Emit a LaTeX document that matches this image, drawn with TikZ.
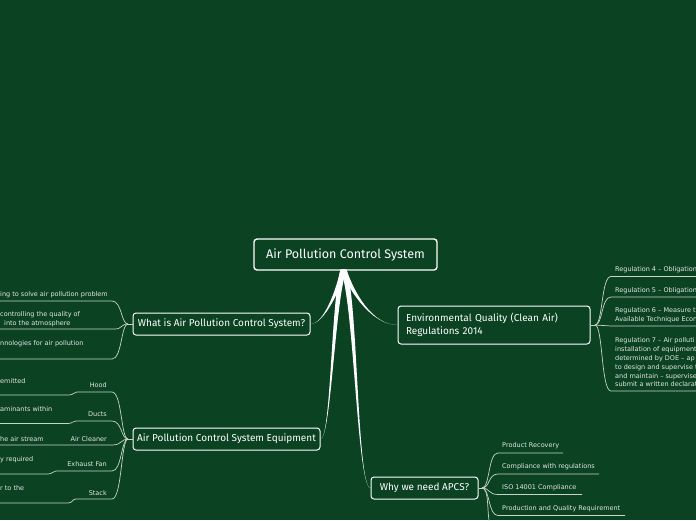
\documentclass[tikz,border=0pt]{standalone}
\usepackage{fontspec}
\setmainfont{DejaVu Sans}
\newfontfamily\hand{Fira Sans}
\usetikzlibrary{calc}
\definecolor{bg}{RGB}{10,66,34}
\definecolor{ln}{RGB}{200,212,200}
\definecolor{tx}{RGB}{228,232,228}
\newcommand\taper[4]{%
  \fill[white] ($#1+(-3,0)$) .. controls ($#2+(-2,0)$) and #3 .. #4
     .. controls #3 and ($#2+(2,0)$) .. ($#1+(3,0)$) -- cycle;}
\begin{document}
\begin{tikzpicture}[x=1pt,y=-1pt,
  main/.style={draw=white,line width=1pt,rounded corners=3pt,text=white,
    font=\hand\fontsize{10}{13}\selectfont,inner sep=0pt},
  sub/.style={text=tx,font=\fontsize{6.5}{8.8}\selectfont,inner sep=0pt,align=left},
  conn/.style={draw=ln,line width=0.7pt}]
\fill[bg] (0,0) rectangle (696,520);
\useasboundingbox (0,0) rectangle (696,520);

% main nodes
\node[main,line width=1.4pt,font=\hand\fontsize{12.5}{14}\selectfont,
  minimum width=183pt,minimum height=31pt] (c) at (345.5,254.5) {Air Pollution Control System};
\node[main,minimum width=177pt,minimum height=22pt] (w) at (221.5,324) {What is Air Pollution Control System?};
\node[main,minimum width=187pt,minimum height=22pt] (q) at (226.5,439) {Air Pollution Control System Equipment};
\node[main,minimum width=192pt,minimum height=38pt,text width=176pt,align=left] (e) at (494,325)
  {Environmental Quality (Clean Air)\\Regulations 2014};
\node[main,minimum width=107pt,minimum height=22pt] (y) at (424.5,488) {Why we need APCS?};

% tapered central connectors
\coordinate (r) at ([xshift=-2pt,yshift=1pt]c.south);
\taper{(r)}{(338,290)}{(324,324)}{(w.east)}
\taper{(r)}{(333,300)}{(331,439)}{(q.east)}
\taper{(r)}{(352,292)}{(372,325)}{(e.west)}
\taper{(r)}{(356,300)}{(357,488)}{(y.west)}

% What is ... subtopics
\coordinate (wh) at (128,324);
\coordinate (w1) at (0,301);
\coordinate (w2) at (0,329);
\coordinate (w3) at (0,359);
\draw[conn] (w.west) -- (wh);
\draw[conn] (wh) .. controls (121,324) and (122,301) .. (112,301) -- (w1);
\draw[conn] (wh) .. controls (121,324) and (122,329) .. (115,329) -- (w2);
\draw[conn] (wh) .. controls (121,324) and (122,359) .. (112,359) -- (w3);
\node[sub,anchor=west] (wt1) at (0,294.5) {ing to solve air pollution problem};
\node[sub,anchor=west] (wt2) at (0,314.5) {controlling the quality of};
\node[sub,anchor=west] (wt3) at (4,323.3) {into the atmosphere};
\node[sub,anchor=west] (wt4) at (0,344) {nnologies for air pollution};

% Equipment subtopics
\coordinate (qh) at (128,439);
\draw[conn] (q.west) -- (qh);
\coordinate (d1) at (0,395);
\coordinate (d2) at (0,423.5);
\coordinate (d3) at (0,445);
\coordinate (d4) at (0,474);
\coordinate (d5) at (0,503);
\draw[conn] (qh) .. controls (121,439) and (122,392) .. (112,392) -- (77,392)
   .. controls (73,392) and (74,395) .. (69,395) -- (d1);
\draw[conn] (qh) .. controls (121,439) and (122,421) .. (112,421) -- (76,421)
   .. controls (72,421) and (73,423.5) .. (68,423.5) -- (d2);
\draw[conn] (qh) .. controls (121,439) and (122,445) .. (112,445) -- (d3);
\draw[conn] (qh) .. controls (121,439) and (122,471) .. (112,471) -- (56,471)
   .. controls (52,471) and (53,474) .. (48,474) -- (d4);
\draw[conn] (qh) .. controls (121,439) and (122,499) .. (112,499) -- (76,499)
   .. controls (72,499) and (73,503) .. (68,503) -- (d5);
\node[sub,anchor=east] (hood) at (107,385.5) {Hood};
\node[sub,anchor=east] (ducts) at (107,414) {Ducts};
\node[sub,anchor=east] (clean) at (107,439) {Air Cleaner};
\node[sub,anchor=east] (fan) at (107,464) {Exhaust Fan};
\node[sub,anchor=east] (stack) at (107,493) {Stack};
\node[sub,anchor=west] (hd) at (0,381) {emitted};
\node[sub,anchor=west] (dd) at (0,409.5) {aminants within};
\node[sub,anchor=west] (cd) at (0,439) {he air stream};
\node[sub,anchor=west] (fd) at (0,459.5) {y required};
\node[sub,anchor=west] (sd) at (0,488.5) {r to the};

% Environmental Quality subtopics
\coordinate (eh) at (595,325);
\draw[conn] (e.east) -- (eh);
\coordinate (e1) at (696,276.5);
\coordinate (e2) at (696,297);
\coordinate (e3) at (696,326);
\coordinate (e4) at (696,391);
\draw[conn] (eh) .. controls (603,325) and (601,276.5) .. (611,276.5) -- (e1);
\draw[conn] (eh) .. controls (603,325) and (601,297) .. (611,297) -- (e2);
\draw[conn] (eh) .. controls (603,325) and (603,326) .. (611,326) -- (e3);
\draw[conn] (eh) .. controls (603,325) and (601,391) .. (611,391) -- (e4);
\node[sub,anchor=west] (r4) at (615,270) {Regulation 4 – Obligation};
\node[sub,anchor=west] (r5) at (615,290.5) {Regulation 5 – Obligation};
\node[sub,anchor=west] (r6) at (615,315.5) {Regulation 6 – Measure t\\Available Technique Econ};
\node[sub,anchor=west] (r7) at (615,362.5) {Regulation 7 – Air polluti\\installation of equipment\\determined by DOE – ap\\to design and supervise t\\and maintain – supervise\\submit a written declarat};

% Why we need APCS subtopics
\coordinate (yh) at (482,488);
\draw[conn] (y.east) -- (yh);
\coordinate (y1) at (563,453);
\coordinate (y2) at (599,474);
\coordinate (y3) at (582,494.5);
\coordinate (y4) at (625,515.5);
\coordinate (y5) at (491,530);
\draw[conn] (yh) .. controls (490,488) and (488,453) .. (498,453) -- (y1);
\draw[conn] (yh) .. controls (490,488) and (488,474) .. (498,474) -- (y2);
\draw[conn] (yh) .. controls (490,488) and (488,494.5) .. (498,494.5) -- (y3);
\draw[conn] (yh) .. controls (490,488) and (488,515.5) .. (498,515.5) -- (y4);
\draw[conn] (yh) .. controls (490,488) and (486,515) .. (y5);
\node[sub,anchor=west] (p1) at (502,445.5) {Product Recovery};
\node[sub,anchor=west] (p2) at (502,466.5) {Compliance with regulations};
\node[sub,anchor=west] (p3) at (502,487.5) {ISO 14001 Compliance};
\node[sub,anchor=west] (p4) at (502,508.5) {Production and Quality Requirement};
\end{tikzpicture}
\end{document}
